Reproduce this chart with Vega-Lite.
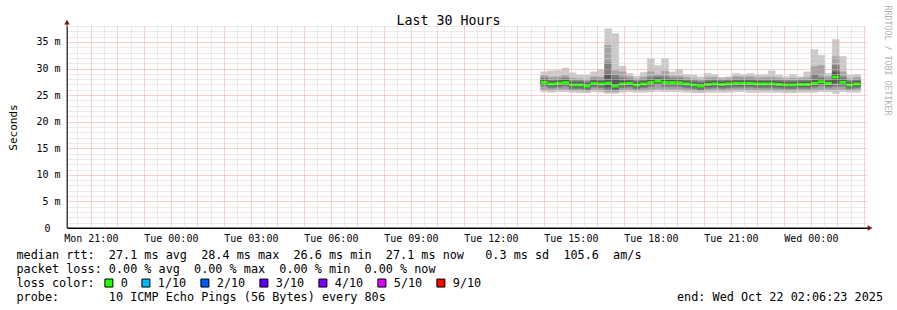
{
  "$schema": "https://vega.github.io/schema/vega-lite/v6.json",
  "width": 800,
  "height": 202,
  "autosize": {"type": "none"},
  "padding": {"left": 67, "top": 26, "right": 30, "bottom": 82},
  "background": "#ffffff",
  "config": {"font": "DejaVu Sans Mono", "view": {"stroke": null}},
  "datasets": {
    "smoke": [
      {"t":"2025-10-21T13:52:00Z","t2":"2025-10-21T14:08:00Z","p1":25.6,"p2":26.0,"p3":26.65,"p4":27.0,"p5":27.25,"p6":27.55,"p7":27.9,"p8":28.25,"p9":28.7,"p10":29.4,"mlo":27.12,"mhi":27.68,"loss":"0"},
      {"t":"2025-10-21T14:08:00Z","t2":"2025-10-21T14:24:00Z","p1":25.5,"p2":25.9,"p3":26.35,"p4":26.7,"p5":26.95,"p6":27.25,"p7":27.6,"p8":27.95,"p9":28.4,"p10":29.6,"mlo":26.82,"mhi":27.38,"loss":"0"},
      {"t":"2025-10-21T14:24:00Z","t2":"2025-10-21T14:40:00Z","p1":25.6,"p2":26.0,"p3":26.45,"p4":26.8,"p5":27.05,"p6":27.35,"p7":27.7,"p8":28.05,"p9":28.5,"p10":29.7,"mlo":26.92,"mhi":27.48,"loss":"0"},
      {"t":"2025-10-21T14:40:00Z","t2":"2025-10-21T14:56:00Z","p1":25.6,"p2":26.0,"p3":26.6,"p4":26.95,"p5":27.2,"p6":27.5,"p7":27.85,"p8":28.2,"p9":28.7,"p10":30.1,"mlo":27.07,"mhi":27.63,"loss":"0"},
      {"t":"2025-10-21T14:56:00Z","t2":"2025-10-21T15:12:00Z","p1":25.5,"p2":25.85,"p3":26.15,"p4":26.5,"p5":26.75,"p6":27.05,"p7":27.4,"p8":27.75,"p9":28.2,"p10":29.2,"mlo":26.62,"mhi":27.18,"loss":"0"},
      {"t":"2025-10-21T15:12:00Z","t2":"2025-10-21T15:28:00Z","p1":25.4,"p2":25.8,"p3":26.15,"p4":26.5,"p5":26.75,"p6":27.05,"p7":27.4,"p8":27.75,"p9":28.1,"p10":28.8,"mlo":26.62,"mhi":27.18,"loss":"0"},
      {"t":"2025-10-21T15:28:00Z","t2":"2025-10-21T15:44:00Z","p1":25.4,"p2":25.75,"p3":25.95,"p4":26.3,"p5":26.55,"p6":26.85,"p7":27.2,"p8":27.55,"p9":28.0,"p10":28.8,"mlo":26.42,"mhi":26.98,"loss":"0"},
      {"t":"2025-10-21T15:44:00Z","t2":"2025-10-21T16:00:00Z","p1":25.6,"p2":26.0,"p3":26.45,"p4":26.8,"p5":27.05,"p6":27.35,"p7":27.7,"p8":28.05,"p9":28.5,"p10":29.4,"mlo":26.92,"mhi":27.48,"loss":"0"},
      {"t":"2025-10-21T16:00:00Z","t2":"2025-10-21T16:16:00Z","p1":25.5,"p2":25.9,"p3":26.35,"p4":26.7,"p5":26.95,"p6":27.25,"p7":27.6,"p8":27.95,"p9":28.4,"p10":29.8,"mlo":26.82,"mhi":27.38,"loss":"0"},
      {"t":"2025-10-21T16:16:00Z","t2":"2025-10-21T16:32:00Z","p1":25.3,"p2":25.6,"p3":26.0,"p4":26.5,"p5":27.0,"p6":27.5,"p7":28.8,"p8":31.1,"p9":34.4,"p10":37.5,"mlo":26.97,"mhi":27.53,"loss":"0"},
      {"t":"2025-10-21T16:32:00Z","t2":"2025-10-21T16:48:00Z","p1":25.3,"p2":25.6,"p3":25.9,"p4":26.2,"p5":26.55,"p6":26.9,"p7":28.1,"p8":28.8,"p9":29.6,"p10":36.6,"mlo":26.42,"mhi":26.98,"loss":"0"},
      {"t":"2025-10-21T16:48:00Z","t2":"2025-10-21T17:04:00Z","p1":25.5,"p2":25.9,"p3":26.35,"p4":26.7,"p5":26.95,"p6":27.25,"p7":27.7,"p8":28.3,"p9":29.4,"p10":30.45,"mlo":26.82,"mhi":27.38,"loss":"0"},
      {"t":"2025-10-21T17:04:00Z","t2":"2025-10-21T17:20:00Z","p1":25.6,"p2":26.0,"p3":26.45,"p4":26.8,"p5":27.05,"p6":27.35,"p7":27.7,"p8":28.05,"p9":28.5,"p10":29.1,"mlo":26.92,"mhi":27.48,"loss":"0"},
      {"t":"2025-10-21T17:20:00Z","t2":"2025-10-21T17:36:00Z","p1":25.5,"p2":25.85,"p3":26.15,"p4":26.5,"p5":26.75,"p6":27.05,"p7":27.4,"p8":27.75,"p9":28.1,"p10":28.6,"mlo":26.62,"mhi":27.18,"loss":"0"},
      {"t":"2025-10-21T17:36:00Z","t2":"2025-10-21T17:52:00Z","p1":25.5,"p2":25.9,"p3":26.35,"p4":26.7,"p5":26.95,"p6":27.25,"p7":27.6,"p8":27.95,"p9":28.4,"p10":29.3,"mlo":26.82,"mhi":27.38,"loss":"0"},
      {"t":"2025-10-21T17:52:00Z","t2":"2025-10-21T18:08:00Z","p1":25.6,"p2":26.0,"p3":26.6,"p4":26.95,"p5":27.2,"p6":27.5,"p7":27.9,"p8":28.4,"p9":29.4,"p10":31.9,"mlo":27.07,"mhi":27.63,"loss":"0"},
      {"t":"2025-10-21T18:08:00Z","t2":"2025-10-21T18:24:00Z","p1":25.7,"p2":26.1,"p3":26.9,"p4":27.25,"p5":27.5,"p6":27.8,"p7":28.15,"p8":28.5,"p9":28.9,"p10":30.6,"mlo":27.37,"mhi":27.93,"loss":"0"},
      {"t":"2025-10-21T18:24:00Z","t2":"2025-10-21T18:40:00Z","p1":25.6,"p2":26.0,"p3":26.6,"p4":26.95,"p5":27.2,"p6":27.5,"p7":27.9,"p8":28.5,"p9":29.5,"p10":31.9,"mlo":27.07,"mhi":27.63,"loss":"0"},
      {"t":"2025-10-21T18:40:00Z","t2":"2025-10-21T18:56:00Z","p1":25.6,"p2":26.0,"p3":26.6,"p4":26.95,"p5":27.2,"p6":27.5,"p7":27.85,"p8":28.2,"p9":28.6,"p10":29.4,"mlo":27.07,"mhi":27.63,"loss":"0"},
      {"t":"2025-10-21T18:56:00Z","t2":"2025-10-21T19:12:00Z","p1":25.6,"p2":26.0,"p3":26.55,"p4":26.9,"p5":27.15,"p6":27.45,"p7":27.8,"p8":28.15,"p9":28.6,"p10":29.8,"mlo":27.02,"mhi":27.58,"loss":"0"},
      {"t":"2025-10-21T19:12:00Z","t2":"2025-10-21T19:28:00Z","p1":25.5,"p2":25.9,"p3":26.35,"p4":26.7,"p5":26.95,"p6":27.25,"p7":27.6,"p8":27.95,"p9":28.35,"p10":28.9,"mlo":26.82,"mhi":27.38,"loss":"0"},
      {"t":"2025-10-21T19:28:00Z","t2":"2025-10-21T19:44:00Z","p1":25.4,"p2":25.8,"p3":26.15,"p4":26.5,"p5":26.75,"p6":27.05,"p7":27.4,"p8":27.75,"p9":28.15,"p10":28.8,"mlo":26.62,"mhi":27.18,"loss":"0"},
      {"t":"2025-10-21T19:44:00Z","t2":"2025-10-21T20:00:00Z","p1":25.4,"p2":25.75,"p3":25.95,"p4":26.3,"p5":26.55,"p6":26.85,"p7":27.2,"p8":27.55,"p9":27.95,"p10":28.45,"mlo":26.42,"mhi":26.98,"loss":"0"},
      {"t":"2025-10-21T20:00:00Z","t2":"2025-10-21T20:16:00Z","p1":25.5,"p2":25.85,"p3":26.25,"p4":26.6,"p5":26.85,"p6":27.15,"p7":27.5,"p8":27.85,"p9":28.3,"p10":29.1,"mlo":26.72,"mhi":27.28,"loss":"0"},
      {"t":"2025-10-21T20:16:00Z","t2":"2025-10-21T20:32:00Z","p1":25.5,"p2":25.9,"p3":26.35,"p4":26.7,"p5":26.95,"p6":27.25,"p7":27.6,"p8":27.95,"p9":28.35,"p10":28.9,"mlo":26.82,"mhi":27.38,"loss":"0"},
      {"t":"2025-10-21T20:32:00Z","t2":"2025-10-21T20:48:00Z","p1":25.5,"p2":25.85,"p3":26.25,"p4":26.6,"p5":26.85,"p6":27.15,"p7":27.5,"p8":27.8,"p9":28.1,"p10":28.4,"mlo":26.72,"mhi":27.28,"loss":"0"},
      {"t":"2025-10-21T20:48:00Z","t2":"2025-10-21T21:04:00Z","p1":25.5,"p2":25.9,"p3":26.35,"p4":26.7,"p5":26.95,"p6":27.25,"p7":27.6,"p8":27.9,"p9":28.2,"p10":28.5,"mlo":26.82,"mhi":27.38,"loss":"0"},
      {"t":"2025-10-21T21:04:00Z","t2":"2025-10-21T21:20:00Z","p1":25.6,"p2":26.0,"p3":26.45,"p4":26.8,"p5":27.05,"p6":27.35,"p7":27.7,"p8":28.05,"p9":28.5,"p10":29.1,"mlo":26.92,"mhi":27.48,"loss":"0"},
      {"t":"2025-10-21T21:20:00Z","t2":"2025-10-21T21:36:00Z","p1":25.6,"p2":26.0,"p3":26.45,"p4":26.8,"p5":27.05,"p6":27.35,"p7":27.7,"p8":28.05,"p9":28.45,"p10":28.9,"mlo":26.92,"mhi":27.48,"loss":"0"},
      {"t":"2025-10-21T21:36:00Z","t2":"2025-10-21T21:52:00Z","p1":25.5,"p2":25.95,"p3":26.45,"p4":26.8,"p5":27.05,"p6":27.35,"p7":27.7,"p8":28.05,"p9":28.5,"p10":29.1,"mlo":26.92,"mhi":27.48,"loss":"0"},
      {"t":"2025-10-21T21:52:00Z","t2":"2025-10-21T22:08:00Z","p1":25.5,"p2":25.9,"p3":26.35,"p4":26.7,"p5":26.95,"p6":27.25,"p7":27.6,"p8":27.95,"p9":28.3,"p10":28.8,"mlo":26.82,"mhi":27.38,"loss":"0"},
      {"t":"2025-10-21T22:08:00Z","t2":"2025-10-21T22:24:00Z","p1":25.5,"p2":25.9,"p3":26.35,"p4":26.7,"p5":26.95,"p6":27.25,"p7":27.6,"p8":27.95,"p9":28.35,"p10":28.9,"mlo":26.82,"mhi":27.38,"loss":"0"},
      {"t":"2025-10-21T22:24:00Z","t2":"2025-10-21T22:40:00Z","p1":25.5,"p2":25.9,"p3":26.35,"p4":26.7,"p5":26.95,"p6":27.25,"p7":27.6,"p8":27.95,"p9":28.4,"p10":29.6,"mlo":26.82,"mhi":27.38,"loss":"0"},
      {"t":"2025-10-21T22:40:00Z","t2":"2025-10-21T22:56:00Z","p1":25.5,"p2":25.85,"p3":26.25,"p4":26.6,"p5":26.85,"p6":27.15,"p7":27.5,"p8":27.85,"p9":28.25,"p10":28.8,"mlo":26.72,"mhi":27.28,"loss":"0"},
      {"t":"2025-10-21T22:56:00Z","t2":"2025-10-21T23:12:00Z","p1":25.4,"p2":25.8,"p3":26.15,"p4":26.5,"p5":26.75,"p6":27.05,"p7":27.4,"p8":27.75,"p9":28.1,"p10":28.5,"mlo":26.62,"mhi":27.18,"loss":"0"},
      {"t":"2025-10-21T23:12:00Z","t2":"2025-10-21T23:28:00Z","p1":25.4,"p2":25.8,"p3":26.15,"p4":26.5,"p5":26.75,"p6":27.05,"p7":27.4,"p8":27.75,"p9":28.2,"p10":28.9,"mlo":26.62,"mhi":27.18,"loss":"0"},
      {"t":"2025-10-21T23:28:00Z","t2":"2025-10-21T23:44:00Z","p1":25.5,"p2":25.85,"p3":26.25,"p4":26.6,"p5":26.85,"p6":27.15,"p7":27.5,"p8":27.85,"p9":28.2,"p10":28.5,"mlo":26.72,"mhi":27.28,"loss":"0"},
      {"t":"2025-10-21T23:44:00Z","t2":"2025-10-22T00:00:00Z","p1":25.5,"p2":25.85,"p3":26.25,"p4":26.6,"p5":26.85,"p6":27.15,"p7":27.5,"p8":27.85,"p9":28.3,"p10":29.4,"mlo":26.72,"mhi":27.28,"loss":"0"},
      {"t":"2025-10-22T00:00:00Z","t2":"2025-10-22T00:16:00Z","p1":25.5,"p2":25.9,"p3":26.45,"p4":26.8,"p5":27.05,"p6":27.35,"p7":27.8,"p8":28.9,"p9":30.4,"p10":33.6,"mlo":26.92,"mhi":27.48,"loss":"0"},
      {"t":"2025-10-22T00:16:00Z","t2":"2025-10-22T00:32:00Z","p1":25.6,"p2":26.0,"p3":26.75,"p4":27.1,"p5":27.35,"p6":27.65,"p7":28.0,"p8":28.3,"p9":30.6,"p10":32.5,"mlo":27.22,"mhi":27.78,"loss":"0"},
      {"t":"2025-10-22T00:32:00Z","t2":"2025-10-22T00:48:00Z","p1":25.6,"p2":26.0,"p3":26.45,"p4":26.8,"p5":27.05,"p6":27.35,"p7":27.7,"p8":28.05,"p9":28.5,"p10":29.1,"mlo":26.92,"mhi":27.48,"loss":"0"},
      {"t":"2025-10-22T00:48:00Z","t2":"2025-10-22T01:04:00Z","p1":25.3,"p2":26.0,"p3":26.6,"p4":27.3,"p5":28.1,"p6":28.7,"p7":29.4,"p8":30.6,"p9":32.2,"p10":35.5,"mlo":28.12,"mhi":28.68,"loss":"0"},
      {"t":"2025-10-22T01:04:00Z","t2":"2025-10-22T01:20:00Z","p1":25.6,"p2":26.0,"p3":26.65,"p4":27.0,"p5":27.25,"p6":27.55,"p7":27.9,"p8":28.4,"p9":29.4,"p10":32.3,"mlo":27.12,"mhi":27.68,"loss":"0"},
      {"t":"2025-10-22T01:20:00Z","t2":"2025-10-22T01:36:00Z","p1":25.5,"p2":25.85,"p3":26.15,"p4":26.5,"p5":26.75,"p6":27.05,"p7":27.4,"p8":27.75,"p9":28.15,"p10":28.8,"mlo":26.62,"mhi":27.18,"loss":"0"},
      {"t":"2025-10-22T01:36:00Z","t2":"2025-10-22T01:52:00Z","p1":25.5,"p2":25.9,"p3":26.35,"p4":26.7,"p5":26.95,"p6":27.25,"p7":27.6,"p8":27.95,"p9":28.35,"p10":28.9,"mlo":26.82,"mhi":27.38,"loss":"0"}
    ],
    "arrows": [
      {"t0":"2025-10-20T20:06:23Z","t":"2025-10-20T20:06:23Z","v0":0,"v":38.75,"s":"triangle-up"},
      {"t0":"2025-10-20T20:06:23Z","t":"2025-10-22T02:13:10Z","v0":0,"v":0,"s":"triangle-right"}
    ]
  },
  "resolve": {"axis": {"x": "independent", "y": "independent"}},
  "layer": [
    {
      "data": {"name": "smoke"},
      "mark": {"type": "rect", "color": "#cacaca", "stroke": "#cacaca", "strokeWidth": 0.3},
      "encoding": {
        "x": {
          "field": "t", "type": "temporal",
          "scale": {"type": "utc", "nice": false, "domain": [1760990783000, 1761098783000]},
          "axis": {
            "orient": "bottom",
            "values": [1760992200000,1760994000000,1760995800000,1760997600000,1760999400000,1761001200000,1761003000000,1761004800000,1761006600000,1761008400000,1761010200000,1761012000000,1761013800000,1761015600000,1761017400000,1761019200000,1761021000000,1761022800000,1761024600000,1761026400000,1761028200000,1761030000000,1761031800000,1761033600000,1761035400000,1761037200000,1761039000000,1761040800000,1761042600000,1761044400000,1761046200000,1761048000000,1761049800000,1761051600000,1761053400000,1761055200000,1761057000000,1761058800000,1761060600000,1761062400000,1761064200000,1761066000000,1761067800000,1761069600000,1761071400000,1761073200000,1761075000000,1761076800000,1761078600000,1761080400000,1761082200000,1761084000000,1761085800000,1761087600000,1761089400000,1761091200000,1761093000000,1761094800000,1761096600000,1761098400000],
            "grid": true,
            "gridColor": {"condition": {"test": "utcminutes(datum.value) == 0", "value": "#f0a0a0"}, "value": "#d6d6d6"},
            "gridDash": [1, 1],
            "gridWidth": 1,
            "ticks": false,
            "labelExpr": "utcminutes(datum.value) == 0 && utchours(datum.value) % 3 == 0 ? utcFormat(datum.value, '%a %H:%M') : ''",
            "labelFont": "DejaVu Sans Mono",
            "labelFontSize": 10,
            "labelColor": "#000000",
            "labelPadding": 5,
            "labelOverlap": false,
            "labelBound": false,
            "labelFlush": false,
            "domainColor": "#000000",
            "domainWidth": 1,
            "zindex": 1,
            "title": [
              "median rtt:\u00a0\u00a027.1 ms avg\u00a0\u00a028.4 ms max\u00a0\u00a026.6 ms min\u00a0\u00a027.1 ms now\u00a0\u00a0\u00a00.3 ms sd\u00a0\u00a0105.6\u00a0\u00a0am/s",
              "packet loss: 0.00 % avg\u00a0\u00a00.00 % max\u00a0\u00a00.00 % min\u00a0\u00a00.00 % now",
              "loss color:",
              "probe:\u00a0\u00a0\u00a0\u00a0\u00a0\u00a0\u00a010 ICMP Echo Pings (56 Bytes) every 80s\u00a0\u00a0\u00a0\u00a0\u00a0\u00a0\u00a0\u00a0\u00a0\u00a0\u00a0\u00a0\u00a0\u00a0\u00a0\u00a0\u00a0\u00a0\u00a0\u00a0\u00a0\u00a0\u00a0\u00a0\u00a0\u00a0\u00a0\u00a0\u00a0\u00a0\u00a0\u00a0\u00a0\u00a0\u00a0\u00a0\u00a0\u00a0\u00a0\u00a0\u00a0end: Wed Oct 22 02:06:23 2025"
            ],
            "titleFont": "DejaVu Sans Mono",
            "titleFontSize": 11.8,
            "titleFontWeight": "normal",
            "titleColor": "#000000",
            "titleX": -51,
            "titleY": 30.5,
            "titleAlign": "left",
            "titleAnchor": "start",
            "titleBaseline": "alphabetic",
            "titleLineHeight": 14
          }
        },
        "x2": {"field": "t2"},
        "y": {
          "field": "p1", "type": "quantitative",
          "scale": {"domain": [0, 38], "nice": false, "zero": true},
          "axis": {
            "orient": "left",
            "values": [0,1,2,3,4,5,6,7,8,9,10,11,12,13,14,15,16,17,18,19,20,21,22,23,24,25,26,27,28,29,30,31,32,33,34,35,36,37,38],
            "grid": true,
            "gridColor": {"condition": {"test": "datum.value % 5 == 0", "value": "#f0a0a0"}, "value": "#d6d6d6"},
            "gridDash": [1, 1],
            "gridWidth": 1,
            "ticks": false,
            "labelExpr": "datum.value % 5 == 0 ? (datum.value == 0 ? '0' : datum.value + ' m') : ''",
            "labelFont": "DejaVu Sans Mono",
            "labelFontSize": 10,
            "labelColor": "#000000",
            "labelPadding": {"condition": {"test": "datum.value == 0", "value": 17}, "value": 7},
            "labelOverlap": false,
            "labelBound": false,
            "labelFlush": false,
            "domainColor": "#404040",
            "zindex": 1,
            "title": "Seconds",
            "titleFont": "DejaVu Sans Mono",
            "titleFontSize": 11,
            "titleFontWeight": "normal",
            "titleColor": "#000000",
            "titleAngle": 270,
            "titleX": -51,
            "titleY": 101,
            "titleAlign": "center",
            "titleBaseline": "alphabetic"
          }
        },
        "y2": {"field": "p10"}
      }
    },
    {
      "data": {"name": "smoke"},
      "mark": {"type": "rect", "color": "#a4a4a4", "stroke": "#a4a4a4", "strokeWidth": 0.3},
      "encoding": {
        "x": {"field": "t", "type": "temporal", "axis": null},
        "x2": {"field": "t2"},
        "y": {"field": "p2", "type": "quantitative", "axis": null},
        "y2": {"field": "p9"}
      }
    },
    {
      "data": {"name": "smoke"},
      "mark": {"type": "rect", "color": "#7e7e7e", "stroke": "#7e7e7e", "strokeWidth": 0.3},
      "encoding": {
        "x": {"field": "t", "type": "temporal", "axis": null},
        "x2": {"field": "t2"},
        "y": {"field": "p3", "type": "quantitative", "axis": null},
        "y2": {"field": "p8"}
      }
    },
    {
      "data": {"name": "smoke"},
      "mark": {"type": "rect", "color": "#585858", "stroke": "#585858", "strokeWidth": 0.3},
      "encoding": {
        "x": {"field": "t", "type": "temporal", "axis": null},
        "x2": {"field": "t2"},
        "y": {"field": "p4", "type": "quantitative", "axis": null},
        "y2": {"field": "p7"}
      }
    },
    {
      "data": {"name": "smoke"},
      "mark": {"type": "rect", "color": "#323232", "stroke": "#323232", "strokeWidth": 0.3},
      "encoding": {
        "x": {"field": "t", "type": "temporal", "axis": null},
        "x2": {"field": "t2"},
        "y": {"field": "p5", "type": "quantitative", "axis": null},
        "y2": {"field": "p6"}
      }
    },
    {
      "data": {"name": "smoke"},
      "mark": {"type": "rect"},
      "encoding": {
        "x": {"field": "t", "type": "temporal", "axis": null},
        "x2": {"field": "t2"},
        "y": {"field": "mlo", "type": "quantitative", "axis": null},
        "y2": {"field": "mhi"},
        "color": {
          "field": "loss", "type": "nominal",
          "scale": {
            "domain": ["0", "1/10", "2/10", "3/10", "4/10", "5/10", "9/10"],
            "range": ["#26ff00", "#00b8ff", "#0059ff", "#5e00ff", "#7e00ff", "#dd00ff", "#ff0000"]
          },
          "legend": {
            "orient": "none",
            "legendX": 36,
            "legendY": 251,
            "direction": "horizontal",
            "title": null,
            "padding": 0,
            "symbolType": "square",
            "symbolSize": 64,
            "symbolStrokeColor": "#000000",
            "symbolStrokeWidth": 1,
            "labelFont": "DejaVu Sans Mono",
            "labelFontSize": 11.8,
            "labelColor": "#000000",
            "labelOffset": 6,
            "columnPadding": 11
          }
        }
      }
    },
    {
      "data": {"name": "arrows"},
      "mark": {"type": "rule", "color": "#404040", "strokeWidth": 1},
      "encoding": {
        "x": {"field": "t", "type": "temporal", "axis": null},
        "y": {"field": "v0", "type": "quantitative", "axis": null},
        "y2": {"field": "v"}
      }
    },
    {
      "data": {"name": "arrows"},
      "mark": {"type": "rule", "color": "#000000", "strokeWidth": 1},
      "encoding": {
        "x": {"field": "t0", "type": "temporal", "axis": null},
        "x2": {"field": "t"},
        "y": {"field": "v", "type": "quantitative", "axis": null}
      }
    },
    {
      "data": {"name": "arrows"},
      "mark": {"type": "point", "filled": true, "color": "#7f1010", "size": 30, "opacity": 1},
      "encoding": {
        "x": {
          "field": "t", "type": "temporal",
          "axis": {
            "orient": "top",
            "labels": false,
            "ticks": false,
            "domain": false,
            "grid": false,
            "title": "Last 30 Hours",
            "titleFont": "DejaVu Sans Mono",
            "titleFontSize": 13.3,
            "titleFontWeight": "normal",
            "titleColor": "#000000",
            "titleX": 381,
            "titleY": -2,
            "titleAlign": "center",
            "titleBaseline": "alphabetic"
          }
        },
        "y": {
          "field": "v", "type": "quantitative",
          "axis": {
            "orient": "right",
            "labels": false,
            "ticks": false,
            "domain": false,
            "grid": false,
            "title": "RRDTOOL / TOBI OETIKER",
            "titleFont": "DejaVu Sans Mono",
            "titleFontSize": 8.3,
            "titleFontWeight": "normal",
            "titleColor": "#b4b4b4",
            "titleAngle": 90,
            "titleX": 17.5,
            "titleY": -21,
            "titleAlign": "left",
            "titleBaseline": "alphabetic"
          }
        },
        "shape": {"field": "s", "type": "nominal", "scale": null}
      }
    }
  ]
}
